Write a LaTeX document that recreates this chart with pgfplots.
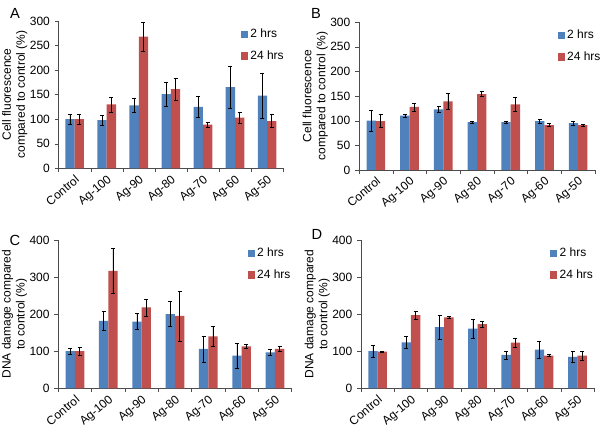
\documentclass[border=0pt]{standalone}
\usepackage{fontspec}
\setmainfont{Liberation Sans}
\usepackage{pgfplots}
\usepackage{pgfplotstable}
\pgfplotsset{compat=1.18}
\definecolor{xblue}{HTML}{4F81BD}
\definecolor{xred}{HTML}{C0504D}

\pgfplotstableread{
x b be r re
0 100 10 100 10
1 98 10 130 15
2 128 14 268 29
3 151 24 161 22
4 125 22 89 5
5 165 43 103 11
6 148 46 96 13
}\dataA
\pgfplotstableread{
x b be r re
0 100 22 99 13
1 110 3.5 128 8
2 123 6 139 16
3 97 2 154 5
4 97 2 133 14
5 99 4 91 3
6 95 4 91 2
}\dataB
\pgfplotstableread{
x b be r re
0 100 7 100 10
1 182 26 317 60
2 180 22 218 23
3 200 34 195 67
4 106 35 140 27
5 88 33 113 5
6 97 8 106 7
}\dataC
\pgfplotstableread{
x b be r re
0 100 17 99 2
1 124 16 197 11
2 165 32 191 3
3 161 26 173 9
4 90 11 123 12
5 104 23 88 3
6 85 15 88 12
}\dataD

\pgfplotsset{
  panel/.style={
    scale only axis,
    font=\fontsize{9}{10.5}\selectfont,
    /pgf/number format/assume math mode=true,
    axis x line*=bottom, axis y line*=left,
    axis line style={-, black!70},
    xmin=-0.5, xmax=6.5, ymin=0,
    tick align=outside,
    major tick length=3pt,
    xtick={0,...,6},
    xticklabels={Control,Ag-100,Ag-90,Ag-80,Ag-70,Ag-60,Ag-50},
    xtick style={draw=none},
    ytick style={draw=black!70},
    extra x ticks={-0.5,0.5,...,6.5},
    extra x tick labels={},
    extra x tick style={xtick style={draw=black!70}},
    x tick label style={rotate=40, anchor=north east, inner sep=1pt},
    ylabel style={align=center},
    ylabel shift=-5pt,
    legend style={draw=none, fill=none, anchor=north west, inner sep=0pt,
      row sep=4pt, font=\fontsize{9}{10.5}\selectfont},
    legend cell align=left,
  },
  bl/.style={ybar, bar width=7pt, bar shift=-3.5pt, fill=xblue, draw=none, forget plot,
    error bars/.cd, y dir=both, y explicit,
    error bar style={black, line width=0.4pt, xshift=-3.5pt},
    error mark options={black, rotate=90, mark size=1.5pt, line width=0.4pt}},
  rd/.style={ybar, bar width=7pt, bar shift=3.5pt, fill=xred, draw=none, forget plot,
    error bars/.cd, y dir=both, y explicit,
    error bar style={black, line width=0.4pt, xshift=3.5pt},
    error mark options={black, rotate=90, mark size=1.5pt, line width=0.4pt}},
}
\newcommand{\legB}{\addlegendimage{legend image code/.code={\fill[xblue] (0pt,-2.4pt) rectangle (4.8pt,2.4pt);}}\addlegendentry{2 hrs}}
\newcommand{\legR}{\addlegendimage{legend image code/.code={\fill[xred] (0pt,-2.4pt) rectangle (4.8pt,2.4pt);}}\addlegendentry{24 hrs}}

\begin{document}
\begin{tikzpicture}
\path[use as bounding box] (0,0) rectangle (450pt,324pt);

% A
\begin{axis}[panel, at={(43.95pt,197.8pt)}, anchor=south west,
  width=168.4pt, height=110.5pt, ymax=300, ytick={0,50,...,300},
  ylabel={Cell fluorescence\\compared to control (\%)},
  legend style={at={(0.81,0.965)}}]
\addplot[bl] table[x=x, y=b, y error=be] {\dataA};
\addplot[rd] table[x=x, y=r, y error=re] {\dataA};
\legB \legR
\end{axis}

% B
\begin{axis}[panel, at={(269.25pt,196.5pt)}, anchor=south west,
  width=177pt, height=111pt, ymax=300, ytick={0,50,...,300},
  ylabel={Cell fluorescence\\compared to control (\%)},
  legend style={at={(0.84,0.965)}}]
\addplot[bl] table[x=x, y=b, y error=be] {\dataB};
\addplot[rd] table[x=x, y=r, y error=re] {\dataB};
\legB \legR
\end{axis}

% C
\begin{axis}[panel, at={(43.7pt,32.8pt)}, anchor=south west,
  width=175pt, height=111.2pt, ymax=400, ytick={0,100,...,400},
  ylabel={DNA damage compared\\to control (\%)},
  legend style={at={(0.81,0.965)}}]
\addplot[bl] table[x=x, y=b, y error=be] {\dataC};
\addplot[rd] table[x=x, y=r, y error=re] {\dataC};
\legB \legR
\end{axis}

% D
\begin{axis}[panel, at={(270.75pt,32.8pt)}, anchor=south west,
  width=174.8pt, height=111.2pt, ymax=400, ytick={0,100,...,400},
  ylabel={DNA damage compared\\to control (\%)},
  legend style={at={(0.81,0.965)}}]
\addplot[bl] table[x=x, y=b, y error=be] {\dataD};
\addplot[rd] table[x=x, y=r, y error=re] {\dataD};
\legB \legR
\end{axis}

\node[font=\fontsize{11}{12}\selectfont] at (11.25pt,314.25pt) {A};
\node[font=\fontsize{11}{12}\selectfont] at (237pt,314.25pt) {B};
\node[font=\fontsize{11}{12}\selectfont] at (11.25pt,144pt) {C};
\node[font=\fontsize{11}{12}\selectfont] at (237.75pt,148.5pt) {D};
\end{tikzpicture}
\end{document}
